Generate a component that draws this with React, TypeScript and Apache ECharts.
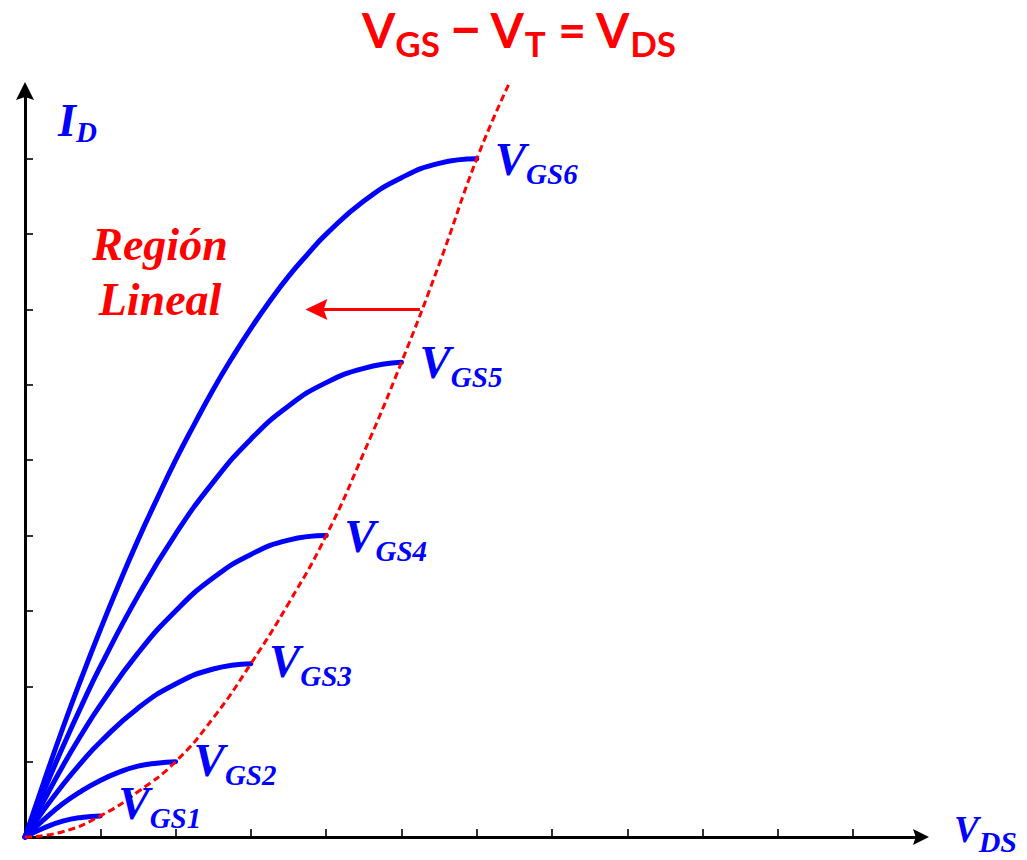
import React, { useEffect, useRef } from "react";
import * as echarts from "echarts";

// Drain current curves in the linear (triode) region, one per gate voltage, as [V_DS, I_D]
const vgs1 = [[0, 0], [0.25, 0.12], [0.5, 0.21], [0.75, 0.26], [1, 0.28]];
const vgs2 = [[0, 0], [0.25, 0.23], [0.5, 0.44], [0.75, 0.61], [1, 0.75], [1.25, 0.86], [1.5, 0.94], [1.75, 0.98], [2, 1]];
const vgs3 = [[0, 0], [0.25, 0.36], [0.5, 0.69], [0.75, 0.99], [1, 1.26], [1.5, 1.71], [2, 2.03], [2.5, 2.23], [3, 2.3]];
const vgs4 = [[0, 0], [0.25, 0.48], [0.5, 0.94], [0.75, 1.36], [1, 1.75], [1.5, 2.44], [2, 3], [2.5, 3.44], [3, 3.75], [3.5, 3.94], [4, 4]];
const vgs5 = [[0, 0], [0.25, 0.61], [0.5, 1.19], [0.75, 1.74], [1, 2.26], [1.5, 3.2], [2, 4.02], [2.5, 4.71], [3, 5.28], [3.5, 5.72], [4, 6.03], [4.5, 6.22], [5, 6.3]];
const vgs6 = [[0, 0], [0.25, 0.73], [0.5, 1.44], [0.75, 2.11], [1, 2.75], [1.25, 3.36], [1.5, 3.94], [1.75, 4.48], [2, 5], [2.25, 5.48], [2.5, 5.94], [2.75, 6.36], [3, 6.75], [3.25, 7.11], [3.5, 7.44], [3.75, 7.73], [4, 8], [4.5, 8.44], [5, 8.75], [5.5, 8.94], [6, 9]];

// Saturation boundary V_GS - V_T = V_DS
const boundary = [[0, 0], [0.5, 0.07], [1, 0.28], [1.5, 0.6], [2, 1], [2.5, 1.58], [3, 2.3], [3.5, 3.1], [4, 4], [4.5, 5.1], [5, 6.3], [5.5, 7.6], [6, 9], [6.43, 10]];

const curveNames = ["GS1", "GS2", "GS3", "GS4", "GS5", "GS6"];
const curveLabelShift = [-13, -2, -3, 0, 0, 0];

// Arrow pointing at the linear region
const arrowFrom = [5.245, 7];
const arrowTo = [3.87, 7];

const xTicks = [1, 2, 3, 4, 5, 6, 7, 8, 9, 10, 11];
const yTicks = [1, 2, 3, 4, 5, 6, 7, 8, 9];

const BLUE = "#0000ff";
const RED = "#ff0000";
const SERIF = "'Liberation Serif', 'Times New Roman', serif";
const ARROW = "path://M5,0 L10,10 L5,8.3 L0,10 Z";

const serifBI = { fontFamily: SERIF, fontStyle: "italic", fontWeight: "bold" };

export default function App() {
  const ref = useRef<HTMLDivElement>(null);

  useEffect(() => {
    if (!ref.current) return;
    const chart = echarts.init(ref.current, null, { renderer: "svg" });

    const curves = [vgs1, vgs2, vgs3, vgs4, vgs5, vgs6].map((data, i) => ({
      type: "line",
      data,
      smooth: 0.5,
      showSymbol: false,
      silent: true,
      clip: false,
      lineStyle: { color: BLUE, width: 5, cap: "round", join: "round" },
      endLabel: {
        show: true,
        distance: 18,
        offset: [0, curveLabelShift[i]],
        formatter: () => `{v|V}{s|${curveNames[i]}}`,
        rich: {
          v: { ...serifBI, fontSize: 47, lineHeight: 47, color: BLUE },
          s: { ...serifBI, fontSize: 29, lineHeight: 29, color: BLUE, padding: [30, 0, 0, 0] },
        },
      },
    }));

    const axisCommon = {
      type: "value",
      splitLine: { show: false },
      axisLabel: { show: false },
    };

    chart.setOption({
      animation: false,
      backgroundColor: "#ffffff",
      grid: { left: 25, right: 106, top: 91, bottom: 23, outerBoundsMode: "none" },
      xAxis: {
        ...axisCommon,
        min: 0,
        max: 11.9,
        axisLine: {
          show: true,
          lineStyle: { color: "#000", width: 3 },
          symbol: ["none", ARROW],
          symbolSize: [16, 17],
        },
        axisTick: {
          show: true,
          inside: true,
          length: 8,
          customValues: xTicks,
          lineStyle: { color: "#000", width: 1.6 },
        },
      },
      yAxis: {
        ...axisCommon,
        min: 0,
        max: 9.9,
        axisLine: {
          show: true,
          lineStyle: { color: "#000", width: 3 },
          symbol: ["none", ARROW],
          symbolSize: [18, 19],
        },
        axisTick: {
          show: true,
          inside: true,
          length: 8,
          customValues: yTicks,
          lineStyle: { color: "#000", width: 1.6 },
        },
      },
      series: [
        ...curves,
        {
          type: "line",
          data: boundary,
          smooth: 0.5,
          showSymbol: false,
          silent: true,
          clip: false,
          lineStyle: { color: RED, width: 3, type: [7, 4] },
          markLine: {
            silent: true,
            symbol: ["none", ARROW],
            symbolSize: [21, 22],
            label: { show: false },
            lineStyle: { color: RED, width: 2.8, type: "solid" },
            data: [[{ coord: arrowFrom }, { coord: arrowTo }]],
          },
        },
      ],
      graphic: [
        {
          type: "text",
          x: 519,
          y: 29,
          style: {
            text: "{m|V}{s|GS}{m| }{d|−}{m| V}{s|T}{m| = V}{s|DS}",
            align: "center",
            verticalAlign: "middle",
            fill: RED,
            rich: {
              m: { fontFamily: "Lato", fontWeight: "bold", fontSize: 48, lineHeight: 48, fill: RED },
              d: { fontFamily: "'Liberation Sans'", fontWeight: "bold", fontSize: 48, lineHeight: 48, fill: RED },
              s: { fontFamily: "Lato", fontWeight: "bold", fontSize: 35, lineHeight: 35, fill: RED, padding: [28, 0, 0, 0] },
            },
          },
        },
        {
          type: "text",
          x: 58,
          y: 120,
          style: {
            text: "{v|I}{s|D}",
            align: "left",
            verticalAlign: "middle",
            fill: BLUE,
            rich: {
              v: { ...serifBI, fontSize: 46, lineHeight: 46, fill: BLUE },
              s: { ...serifBI, fontSize: 29, lineHeight: 29, fill: BLUE, padding: [24, 0, 0, 0] },
            },
          },
        },
        {
          type: "text",
          x: 954,
          y: 829,
          style: {
            text: "{v|V}{s|DS}",
            align: "left",
            verticalAlign: "middle",
            fill: BLUE,
            rich: {
              v: { ...serifBI, fontSize: 37, lineHeight: 37, fill: BLUE },
              s: { ...serifBI, fontSize: 30, lineHeight: 30, fill: BLUE, padding: [24, 0, 0, 0] },
            },
          },
        },
        {
          type: "text",
          x: 160,
          y: 272,
          style: {
            text: "Región\nLineal",
            align: "center",
            verticalAlign: "middle",
            fill: RED,
            ...serifBI,
            fontSize: 46,
            lineHeight: 55,
          },
        },
      ],
    });

    return () => chart.dispose();
  }, []);

  return (
    <div
      ref={ref}
      style={{ position: "fixed", left: 0, top: 0, width: 1027, height: 860 }}
    />
  );
}
